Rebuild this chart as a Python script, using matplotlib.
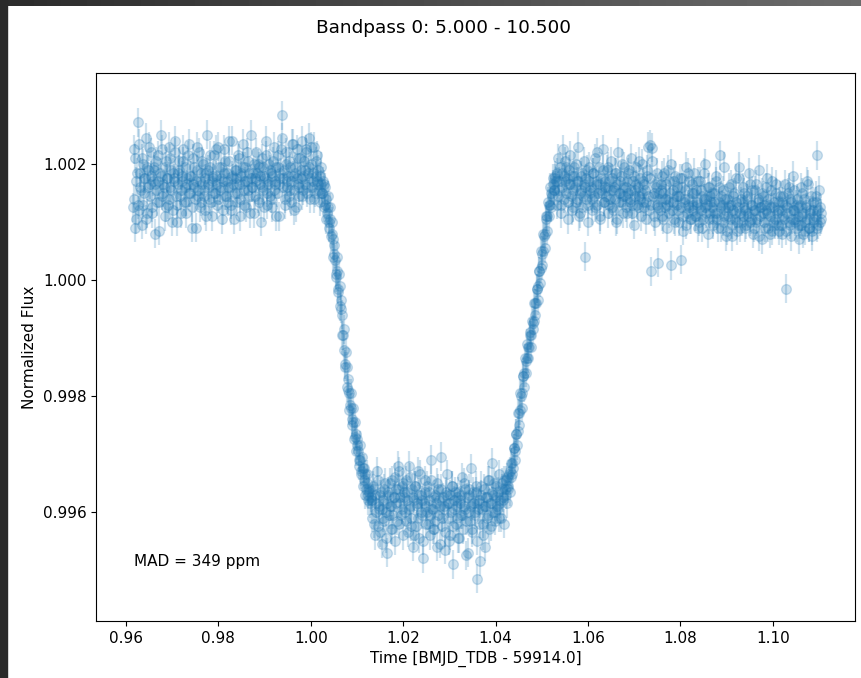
import numpy as np
import matplotlib
matplotlib.use("Agg")
import matplotlib.pyplot as plt

# ---- data (flux offsets in ppm relative to 1.0) ----
t_start, t_end = 0.9615, 1.1105   # first / last exposure time [BMJD_TDB - 59914.0]

# odd exposures
pre_transit_a = [
    1250, 2250, 900, 1700, 2720, 1200, 1850, 1550, 2100, 1300, 1750, 1050, 1950, 1600, 2300,
    1450, 1800, 1150, 1900, 1650, 2050, 1350, 1700, 850, 1800, 2250, 1500, 1600, 1950, 1250,
    1750, 1400, 2100, 1550, 1000, 1850, 1700, 2200, 1300, 1650, 1900, 1450, 1150, 1800, 2050,
    1600, 1350, 1750, 2150, 1500, 1800, 900, 1650, 1950, 1400, 1700, 2300, 1550, 1250, 1850,
    1650, 2000, 1450, 1750, 1100, 1900, 1600, 2150, 1350, 1700, 1800, 1500, 2250, 1650, 1400,
    1950, 1550, 1750, 1200, 1850, 2050, 1450, 1700, 1600, 2400, 1300, 1800, 1650, 1050, 1900,
    1750, 1500, 2100, 1400, 1850, 1650, 1950, 1300, 1700, 2200, 1550, 1850, 1150, 1750, 1600,
    2000, 1450, 1700, 1850, 2000, 1350, 1800, 1600, 1950, 1250, 1750, 2150, 1500, 1650, 1900,
    1400, 1800, 2050, 1550, 1700, 1100, 1950, 1650, 1850, 2250, 2840, 1750, 1300, 2000, 1600,
    1800, 1450, 1950, 1700, 2350, 1550, 1850, 1250, 1750, 2100, 1600, 1900, 1450, 1800, 2050,
    1650, 2250, 1500, 1950, 1750, 2300, 1600, 1850, 1400, 2050, 1700, 1900, 1550, 1800, 1650,
]
ingress_a = [
    1500, 1650, 1300, 1400, 1150, 1250, 1000, 1050, 800, 700, 450, 350, 100, 150, -150,
    -100, -500, -600, -950, -1200, -1450, -1500, -1900, -1950, -2150, -2200, -2400, -2450,
    -2700, -2650, -2850, -2950, -3100, -3100, -3300, -3250, -3450, -3350, -3600, -3500,
    -3700, -3650, -3800,
]
in_transit_a = [
    -3800, -3550, -4200, -3700, -4000, -3450, -3900, -4350, -3650, -3950, -4100, -3600, -4450, -3850, -3700,
    -4050, -3500, -3900, -4300, -3750, -3400, -3850, -4150, -3600, -3300, -3750, -3950, -3500, -3650, -4000,
    -3450, -3800, -3200, -3900, -4250, -3600, -3750, -4400, -3550, -3850, -4100, -3700, -3350, -4000, -3800,
    -4500, -3650, -3900, -3550, -4200, -3800, -4050, -3450, -3950, -4300, -3700, -3850, -4600, -3600, -3900,
    -3050, -4100, -3750, -3950, -4350, -3650, -3850, -4500, -3700, -4000, -3550, -4250, -3800, -3900, -4100,
    -3650, -4450, -3850, -3700, -4050, -3500, -3950, -4150, -3750, -4700, -3600, -3900, -4300, -3650, -3850,
    -4000, -3550, -5150, -3850, -4200, -3700, -3950, -4400, -3600, -3900, -3750, -4050, -3450, -3850, -4250,
    -3150, -3700, -4000, -3550, -3900, -3650, -4100, -3800, -3500, -3750, -4200, -3600, -3450, -3850, -3550, -3650,
]
egress_a = [
    -3400, -3150, -3250, -2900, -2950, -2650, -2600, -2300, -2250, -2000,
    -1950, -1650, -1600, -1400, -1350, -1150, -1150, -950, -950, -750,
    -700, -400, -400, -150, -100, 150, 200, 450, 500, 750,
    800, 1050, 1100, 1300, 1300, 1500, 1450, 1650, 1550, 1750,
]
post_transit_a = [
    1850, 1450, 1700, 1950, 1300, 1600, 1800, 2050, 1500, 1750, 1350, 1900, 1650, 1200, 1550,
    1800, 1600, 2000, 1400, 1700, 1150, 1550, 1850, 1450, 1650, 400, 1750, 1300, 1950, 1500,
    1600, 1400, 1850, 1250, 1700, 2200, 1500, 1650, 1100, 1550, 1900, 1350, 1700, 1450, 1600,
    1950, 1300, 1550, 1750, 1200, 1600, 1400, 1850, 1050, 1500, 1700, 1350, 2000, 1450, 1600,
    1250, 1700, 1500, 1900, 1350, 1550, 1150, 1800, 1450, 1650, 1300, 1600, 2050, 1400, 1500,
    1700, 1250, 1550, 1350, 1800, 2300, 2330, 150, 2280, 1450, 1100, 1650, 1300, 300, 1500,
    1200, 1550, 1800, 1050, 1400, 1650, 1300, 1900, 1150, 1500, 250, 1350, 1700, 1000, 1450,
    1600, 1200, 1450, 350, 1750, 1100, 1350, 1550, 950, 1850, 1250, 1400, 1050, 1650, 1300,
    1500, 1100, 1350, 1700, 1000, 1250, 1550, 900, 1400, 2000, 1150, 1300, 1600, 1050, 1450,
    1250, 950, 1500, 1150, 1700, 1050, 1350, 2150, 900, 1300, 1550, 1100, 1400, 850, 1250,
    1600, 1050, 1300, 750, 1450, 1150, 1750, 1000, 1250, 1950, 900, 1350, 1100, 1500, 1200,
    950, 1400, 1150, 1650, 1050, 1300, 800, 1200, 1550, 1000, 1350, 1900, 1100, 1250, 700,
    1450, 1000, 1200, 1750, 900, 1300, 1100, 1550, 850, 1250, 1050, 1650, 1150, 950, 1350,
    1200, 800, 1450, 1050, 1300, -150, 1150, 1600, 950, 1350, 1050, 1800, 1200, 1000, 1400,
    1100, 700, 1300, 950, 1500, 1150, 850, 1250, 1050, 1650, 900, 1200, 750, 1350, 1000,
    1100, 1450, 2150, 950, 1250, 1050,
]

# even exposures
pre_transit_b = [
    1400, 2100, 1050, 1850, 1300, 2350, 1600, 950, 2000, 1500, 1750, 2450, 1150, 1900, 1650,
    2200, 1250, 1700, 1950, 800, 1550, 2150, 1350, 1850, 2500, 1450, 1650, 1100, 2050, 1750,
    1300, 2300, 1600, 1900, 1200, 1750, 2400, 1450, 1000, 1850, 2050, 1550, 1700, 2250, 1350,
    1950, 1150, 1650, 2350, 1500, 1800, 1250, 2100, 1600, 900, 1900, 1450, 2200, 1700, 1350,
    2050, 1550, 1200, 1850, 2500, 1650, 1400, 1950, 1100, 1750, 2150, 1500, 1800, 1300, 2300,
    1600, 1950, 1050, 1700, 2250, 1450, 1850, 1350, 2050, 1600, 1200, 2400, 1750, 1500, 1900,
    1350, 2150, 1650, 1100, 1800, 2350, 1550, 1950, 1250, 1700, 2050, 1450, 2500, 1600, 1850,
    1150, 1750, 2200, 1400, 1950, 1650, 1000, 2100, 1550, 1800, 2400, 1300, 1700, 2000, 1450,
    1850, 1250, 2300, 1650, 1950, 1500, 2150, 1100, 1750, 2450, 1600, 1900, 1400, 2200, 1700,
    2050, 1550, 1350, 2350, 1800, 1200, 1950, 2250, 1650, 1450, 2100, 1750, 2400, 1550, 1900,
    2200, 1600, 1850, 2450, 1400, 2000, 1700, 2300, 1500, 1800, 2150, 1650, 1350, 1950, 1500,
]
ingress_b = [
    1700, 1250, 1600, 1050, 1450, 900, 1250, 750, 1000, 400, 600, 50, 400, -200, 100,
    -450, -350, -950, -850, -1500, -1250, -1850, -1700, -2250, -1950, -2500, -2200, -2750,
    -2450, -2950, -2750, -3200, -2850, -3350, -3050, -3550, -3250, -3700, -3350, -3800,
    -3600, -3850, -3750,
]
in_transit_b = [
    -4100, -3600, -4400, -3850, -3300, -4250, -3950, -3700, -4550, -3800, -4150, -3500, -4000, -4700, -3650,
    -3900, -4300, -3450, -4050, -3750, -4500, -3600, -3200, -4200, -3850, -4050, -3550, -4400, -3750, -4150,
    -3650, -4350, -3950, -3400, -4100, -4600, -3800, -3550, -4250, -3900, -3300, -4450, -3700, -4050, -4800,
    -3850, -3450, -4200, -4000, -3650, -4400, -3100, -3950, -4300, -3750, -4150, -3500, -4050, -3800, -4550,
    -3600, -4250, -3900, -4650, -3700, -3350, -4100, -3850, -4400, -3550, -4900, -3950, -3650, -4200, -3750,
    -4450, -3800, -4050, -3400, -4300, -3900, -3600, -4750, -4000, -3700, -4150, -3250, -4350, -3850, -4050,
    -3650, -4500, -3950, -3800, -4850, -3550, -4200, -3900, -4600, -3750, -4100, -3450, -4300, -3850, -3650,
    -4000, -3500, -4150, -3750, -3950, -3350, -3850, -4100, -3600, -3800, -3450, -3700, -3400, -3600, -3350, -3300,
]
egress_b = [
    -3150, -3350, -2900, -3100, -2650, -2850, -2300, -2500, -1950, -2200,
    -1650, -1850, -1350, -1600, -1100, -1350, -900, -1150, -700, -850,
    -400, -600, -150, -350, 150, -50, 500, 250, 800, 550,
    1100, 850, 1350, 1100, 1600, 1250, 1750, 1550, 1800, 1700,
]
post_transit_b = [
    1300, 2100, 1550, 1150, 1850, 2250, 1400, 1700, 1950, 1050, 1650, 2150, 1450, 1800, 1250,
    1950, 1350, 1700, 2300, 1100, 1500, 1800, 1250, 2050, 1600, 1400, 1900, 1000, 1700, 1550,
    1200, 1850, 1450, 2100, 1650, 1300, 1950, 1050, 1750, 1500, 2250, 1350, 1600, 1900, 1150,
    1700, 1400, 2050, 1250, 1550, 1850, 1000, 1650, 2200, 1350, 1500, 1800, 1150, 1950, 1450,
    1600, 1150, 1850, 1400, 2100, 1300, 1700, 950, 1550, 1950, 1250, 1450, 1750, 1100, 2000,
    1350, 1650, 1050, 1900, 1450, 1200, 1750, 1300, 2050, 1500, 1000, 1600, 1850, 1250, 1400,
    1650, 1100, 1500, 1850, 1250, 1400, 900, 1700, 1350, 2000, 1200, 1550, 1050, 1800, 1300,
    1450, 1000, 1750, 1250, 1600, 850, 1400, 1950, 1150, 1300, 1700, 1050, 1500, 1200, 1850,
    1100, 1550, 1300, 900, 1700, 1200, 1450, 1050, 1850, 1250, 1400, 800, 1600, 1150, 1350,
    1500, 1050, 1350, 1800, 1150, 900, 1600, 1250, 1450, 1000, 1950, 1200, 750, 1400, 1100,
    1300, 1650, 950, 1200, 1500, 1050, 1350, 850, 1750, 1150, 1400, 1000, 1600, 1250, 900,
    1450, 1100, 1850, 1000, 1300, 1550, 900, 1200, 1650, 1050, 1400, 750, 1250, 1500, 1150,
    1300, 900, 1600, 1150, 1400, 800, 1250, 1700, 1000, 1350, 950, 1500, 1200, 850, 1450,
    950, 1350, 1100, 1650, 850, 1250, 1500, 1000, 1400, 750, 1200, 1550, 1050, 1300, 900,
    1250, 950, 1600, 1100, 800, 1400, 1000, 1300, 1700, 900, 1150, 1450, 850, 1200, 1050,
    1350, 900, 1200, 1550, 1000, 1150,
]

flux_err_ppm = 250
mad_ppm = 349
title = "Bandpass 0: 5.000 - 10.500"
xlabel = "Time [BMJD_TDB - 59914.0]"
ylabel = "Normalized Flux"
xticks = [0.96, 0.98, 1.00, 1.02, 1.04, 1.06, 1.08, 1.10]
yticks = [0.996, 0.998, 1.000, 1.002]

ppm_a = np.concatenate([pre_transit_a, ingress_a, in_transit_a, egress_a, post_transit_a])
ppm_b = np.concatenate([pre_transit_b, ingress_b, in_transit_b, egress_b, post_transit_b])
ppm = np.empty(len(ppm_a) + len(ppm_b))
ppm[0::2] = ppm_a
ppm[1::2] = ppm_b
flux = 1.0 + ppm * 1e-6
time = np.linspace(t_start, t_end, len(flux))
flux_err = np.full(len(flux), flux_err_ppm * 1e-6)

# ---- figure ----
W, H = 861, 678
fig = plt.figure(figsize=(W / 100, H / 100), dpi=100)
fig.patch.set_facecolor("white")

ax = fig.add_axes([96 / W, 1 - 621 / H, (855 - 96) / W, (621 - 73) / H])
ax.errorbar(time, flux, yerr=flux_err, fmt="o", color="#1f77b4", alpha=0.22,
            markersize=7, elinewidth=1.6)
ax.set_xlim(0.9535, 1.1178)
ax.set_ylim(0.99412, 1.003569)
ax.set_xticks(xticks)
ax.set_xticklabels([f"{v:.2f}" for v in xticks])
ax.set_yticks(yticks)
ax.set_yticklabels([f"{v:.3f}" for v in yticks])
ax.tick_params(labelsize=11)
ax.set_xlabel(xlabel, fontsize=11)
ax.set_ylabel(ylabel, fontsize=11)
ax.text(0.05, 0.1, f"MAD = {mad_ppm} ppm", transform=ax.transAxes, fontsize=11)

fig.suptitle(title, x=444 / W, y=1 - 28 / H, va="center", fontsize=13.3)

# screenshot frame (dark strips at the top and left edges)
fig.patches.append(plt.Rectangle((0, 0), 7 / W, 1, transform=fig.transFigure,
                                 color="#2a2a2a", zorder=10))
gax = fig.add_axes([0, 1 - 6 / H, 1, 6 / H])
gax.imshow(np.linspace(0, 1, 256)[None, :], aspect="auto", cmap="gray",
           vmin=-0.68, vmax=3.32, extent=[0, 1, 0, 1])
gax.axis("off")

fig.savefig("out.png", dpi=100)
